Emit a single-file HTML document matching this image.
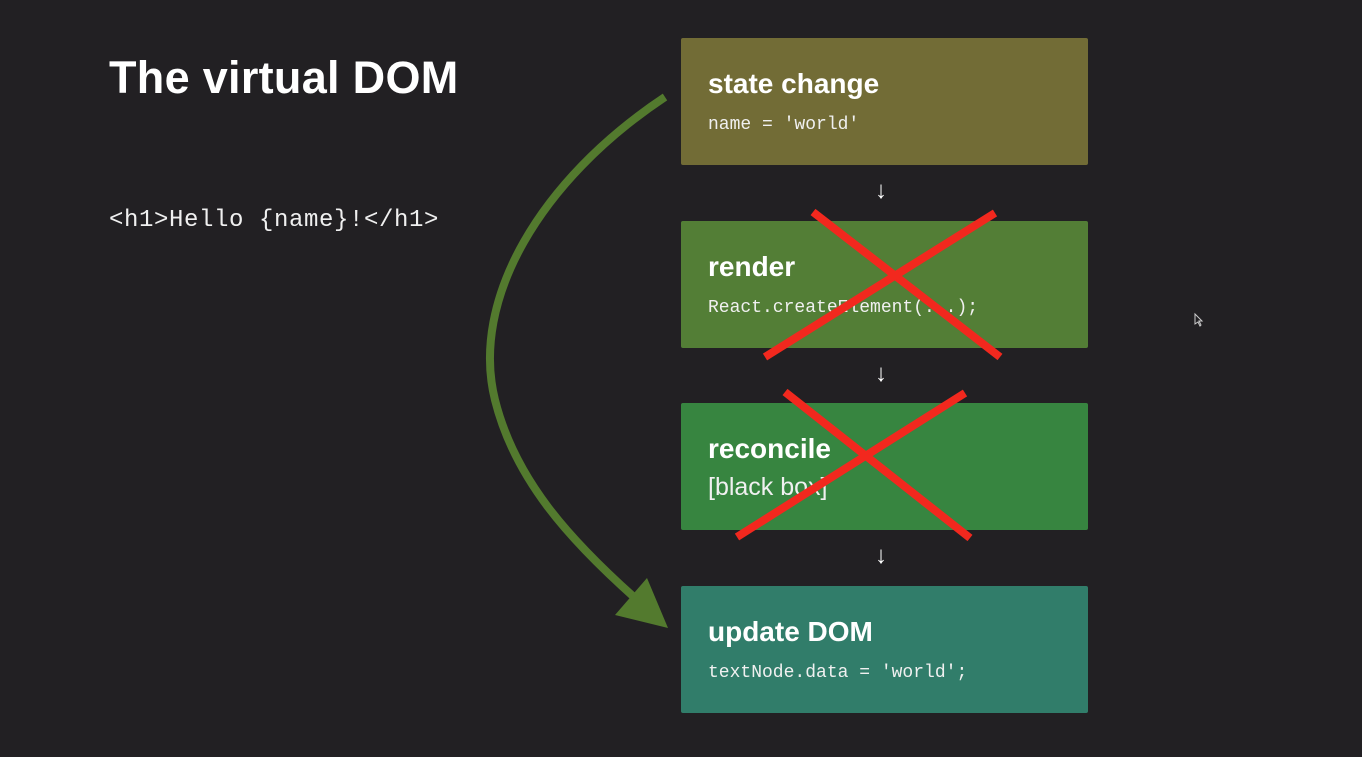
<!DOCTYPE html>
<html><head><style>
body{margin:0;width:1362px;height:757px;background:#222023;position:relative;overflow:hidden;font-family:"Liberation Sans",sans-serif;color:#fff}
.t{position:absolute;left:109px;top:52px;font-size:45px;font-weight:bold;letter-spacing:0.3px}
.c{position:absolute;left:109px;top:207px;font-family:"Liberation Mono",monospace;font-size:24px;color:#f0f0f0;letter-spacing:0.6px}
.b{position:absolute;left:681px;width:407px;height:127px;border-radius:2px}
.b h2{position:absolute;left:27px;margin:0;font-size:28px;font-weight:bold;letter-spacing:0}
.b p{position:absolute;left:27px;margin:0;font-family:"Liberation Mono",monospace;font-size:18px;color:#f0f0f0}
.a{position:absolute;left:875px;font-size:24px;font-weight:bold;color:#fff}
</style></head><body>
<div class="t">The virtual DOM</div>
<div class="c">&lt;h1&gt;Hello {name}!&lt;/h1&gt;</div>
<div class="b" style="top:38px;background:#726c36"><h2 style="top:30px">state change</h2><p style="top:77px">name = 'world'</p></div>
<div class="b" style="top:221px;background:#537e36"><h2 style="top:30px">render</h2><p style="top:77px">React.createElement(...);</p></div>
<div class="b" style="top:403px;background:#378540"><h2 style="top:30px">reconcile</h2><p style="top:70px;font-family:'Liberation Sans',sans-serif;font-size:25px">[black box]</p></div>
<div class="b" style="top:586px;background:#317d6a"><h2 style="top:30px">update DOM</h2><p style="top:77px">textNode.data = 'world';</p></div>
<div class="a" style="top:177px">↓</div>
<div class="a" style="top:360px">↓</div>
<div class="a" style="top:542px">↓</div>
<svg width="1362" height="757" style="position:absolute;left:0;top:0">
<path d="M665,97 C540,180 470,300 495,400 C515,480 570,540 635,598" fill="none" stroke="#537a2e" stroke-width="8"/>
<polygon points="668,628 615,615 647,578" fill="#537a2e"/>
<g stroke="#f2281e" stroke-width="8">
<line x1="813" y1="212" x2="1000" y2="357"/><line x1="995" y1="213" x2="765" y2="357"/>
<line x1="785" y1="392" x2="970" y2="538"/><line x1="965" y1="393" x2="737" y2="537"/>
</g>
<path d="M1195,314 l0,10 l3,-2 l2,4 l1,-1 l-2,-4 l3,0 z" fill="none" stroke="#ccc" stroke-width="1"/>
</svg>
</body></html>
